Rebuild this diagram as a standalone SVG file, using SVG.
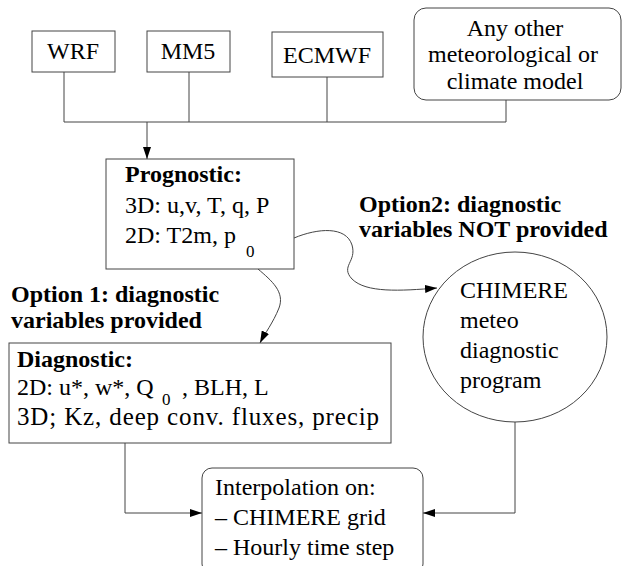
<svg xmlns="http://www.w3.org/2000/svg" width="626" height="566" viewBox="0 0 626 566">
<defs>
<style>
.box{fill:#fff;stroke:#444;stroke-width:1}
.ln{fill:none;stroke:#444;stroke-width:1}
.t text{font-size:24px;fill:#000}
.b{font-weight:bold}
.m{text-anchor:middle}
.sub{font-size:17px}
</style>
<marker id="ah" viewBox="0 0 12 8" refX="12" refY="4" markerWidth="12" markerHeight="8" markerUnits="userSpaceOnUse" orient="auto">
<path d="M0,0 L12,4 L0,8 Z" fill="#000"/>
</marker>
</defs>
<rect width="626" height="566" fill="#fff"/>
<g id="connectors">
<path class="ln" d="M64,72 V122 M189,72 V122 M327,77 V122 M506,100 V122 M64,122 H506"/>
<path class="ln" d="M147,122 V159" marker-end="url(#ah)"/>
<path class="ln" d="M294,238 C318,228 346,226 352,245 C357,262 340,266 352,279 C366,293 400,291 437,288" marker-end="url(#ah)"/>
<path class="ln" d="M258,269 C272,281 285,292 279,308 C273,323 265,333 260,343" marker-end="url(#ah)"/>
<path class="ln" d="M125,443 V513 H202" marker-end="url(#ah)"/>
<path class="ln" d="M515,422 V513 H423" marker-end="url(#ah)"/>
</g>
<g class="t" font-family="'Liberation Serif', 'Times New Roman', 'DejaVu Serif', serif" font-size="24">
<g id="wrf">
<rect class="box" x="32" y="31" width="83" height="41"/>
<text class="m" x="73" y="59">WRF</text>
</g>
<g id="mm5">
<rect class="box" x="147" y="31" width="83" height="41"/>
<text class="m" x="188" y="59">MM5</text>
</g>
<g id="ecmwf">
<rect class="box" x="272" y="32" width="111" height="45"/>
<text class="m" x="327" y="63">ECMWF</text>
</g>
<g id="other">
<rect class="box" x="414" y="8" width="207" height="92" rx="12"/>
<text class="m" x="515" y="36">Any other</text>
<text class="m" x="513" y="62">meteorological or</text>
<text class="m" x="515" y="89">climate model</text>
</g>
<g id="prognostic">
<rect class="box" x="106" y="159" width="188" height="110"/>
<text class="b" x="125" y="182">Prognostic:</text>
<text x="125" y="213">3D: u,v, T, q, P</text>
<text x="125" y="243">2D: T2m, p<tspan class="sub" x="246" y="257">0</tspan></text>
</g>
<g id="option2-label">
<text class="b" x="359" y="212">Option2: diagnostic</text>
<text class="b" x="359" y="237">variables NOT provided</text>
</g>
<g id="option1-label">
<text class="b" x="11" y="302">Option 1: diagnostic</text>
<text class="b" x="11" y="328">variables provided</text>
</g>
<g id="chimere">
<ellipse class="box" cx="515" cy="337" rx="92" ry="85"/>
<text x="460" y="298">CHIMERE</text>
<text x="460" y="328">meteo</text>
<text x="460" y="358">diagnostic</text>
<text x="460" y="388">program</text>
</g>
<g id="diagnostic">
<rect class="box" x="9" y="343" width="382" height="100"/>
<text class="b" x="17" y="367">Diagnostic:</text>
<text x="17" y="395">2D: u*, w*, Q<tspan class="sub" x="162" y="405">0</tspan><tspan x="182" y="395">, BLH, L</tspan></text>
<text x="17" y="425" style="font-size:25px" textLength="362">3D; Kz, deep conv. fluxes, precip</text>
</g>
<g id="interpolation">
<rect class="box" x="202" y="468" width="221" height="106" rx="10"/>
<text x="215" y="495">Interpolation on:</text>
<text x="215" y="525">– CHIMERE grid</text>
<text x="215" y="555">– Hourly time step</text>
</g>
</g>
</svg>
